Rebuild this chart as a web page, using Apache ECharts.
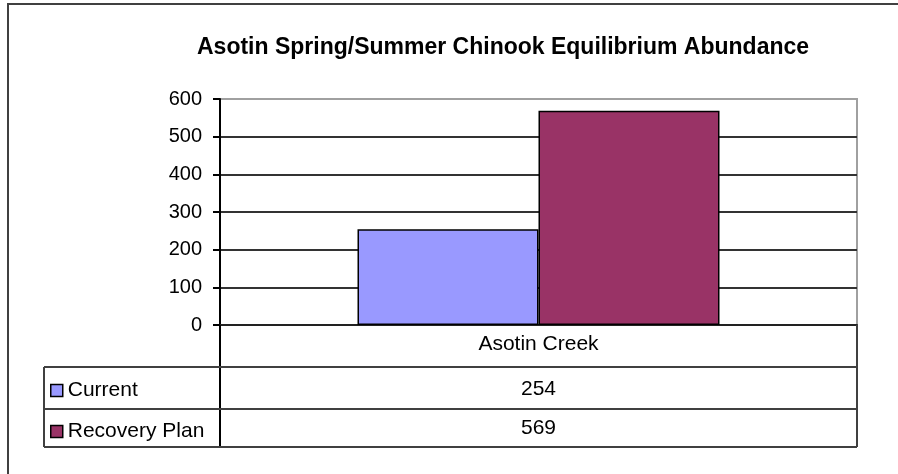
<!DOCTYPE html>
<html>
<head>
<meta charset="utf-8">
<script src="https://cdn.jsdelivr.net/npm/echarts@6/dist/echarts.min.js"></script>
<style>html,body{margin:0;padding:0;background:#fff}#c{width:898px;height:474px}</style>
</head>
<body>
<div id="c"></div>
<script>
const categories = ['Asotin Creek'];
const seriesNames = ['Current', 'Recovery Plan'];
const currentValues = [254];
const recoveryValues = [569];
const yTicks = [0, 100, 200, 300, 400, 500, 600];
const titleText = 'Asotin Spring/Summer Chinook Equilibrium Abundance';

const FONT = "'Liberation Sans', Arial, sans-serif";
const G = {left: 220, right: 41, top: 99, bottom: 149};
const W = 898, H = 474;
const plotRight = W - G.right, plotBottom = H - G.bottom;
const rowH = 42, tableBottom = 447, tableLeft = 44;

const chart = echarts.init(document.getElementById('c'), null, {renderer: 'canvas'});
const option = {
  backgroundColor: '#fff',
  animation: false,
  title: {
    text: titleText, left: 197, top: 36, padding: 0,
    textStyle: {fontFamily: FONT, fontSize: 23, fontWeight: 'bold', color: '#000'}
  },
  legend: {
    orient: 'vertical', left: 50, top: 380, itemGap: 20, padding: 0,
    itemWidth: 12, itemHeight: 12, icon: 'rect',
    itemStyle: {borderColor: '#000', borderWidth: 1.5},
    textStyle: {fontFamily: FONT, fontSize: 21, color: '#000', lineHeight: 20},
    data: seriesNames
  },
  grid: {left: G.left, right: G.right, top: G.top, bottom: G.bottom, show: true,
    borderColor: '#a0a0a0', borderWidth: 2, backgroundColor: '#fff'},
  xAxis: [
    {type: 'category', data: categories, position: 'bottom',
     axisLine: {lineStyle: {color: '#222', width: 2}}, axisTick: {show: false},
     axisLabel: {margin: 9, fontFamily: FONT, fontSize: 21, color: '#000'}},
    {type: 'category', data: categories, position: 'bottom', offset: rowH,
     axisLine: {show: false}, axisTick: {show: false},
     axisLabel: {margin: 12, fontFamily: FONT, fontSize: 21, color: '#000',
       formatter: (v, i) => String(currentValues[i])}},
    {type: 'category', data: categories, position: 'bottom', offset: rowH * 2,
     axisLine: {show: false}, axisTick: {show: false},
     axisLabel: {margin: 9, fontFamily: FONT, fontSize: 21, color: '#000',
       formatter: (v, i) => String(recoveryValues[i])}}
  ],
  yAxis: {
    type: 'value', min: yTicks[0], max: yTicks[yTicks.length - 1], interval: yTicks[1] - yTicks[0],
    axisLine: {show: true, lineStyle: {color: '#000', width: 2}},
    axisTick: {show: true, length: 7, lineStyle: {color: '#000', width: 2}},
    axisLabel: {margin: 18, fontFamily: FONT, fontSize: 20, color: '#000'},
    splitLine: {show: true, lineStyle: {color: ['#222', '#333', '#333', '#333', '#333', '#333', '#a0a0a0'], width: 2}}
  },
  series: [
    {name: seriesNames[0], type: 'bar', data: currentValues, barWidth: 181, barGap: '0%',
     itemStyle: {color: '#9999FF', borderColor: '#000', borderWidth: 1.5}},
    {name: seriesNames[1], type: 'bar', data: recoveryValues, barWidth: 181, barGap: '0%',
     itemStyle: {color: '#993366', borderColor: '#000', borderWidth: 1.5}}
  ],
  graphic: [
    {type: 'rect', shape: {x: 8, y: 4, width: 1000, height: 1000}, silent: true, z: 100,
     style: {fill: 'none', stroke: '#404040', lineWidth: 2}},
    {type: 'line', shape: {x1: G.left, y1: plotBottom, x2: G.left, y2: tableBottom}, z: 100,
     style: {stroke: '#000', lineWidth: 2}},
    {type: 'line', shape: {x1: plotRight, y1: plotBottom, x2: plotRight, y2: tableBottom}, z: 100,
     style: {stroke: '#404040', lineWidth: 2}},
    {type: 'line', shape: {x1: tableLeft, y1: plotBottom + rowH, x2: tableLeft, y2: tableBottom}, z: 100,
     style: {stroke: '#404040', lineWidth: 2}},
    {type: 'line', shape: {x1: tableLeft, y1: plotBottom + rowH, x2: plotRight, y2: plotBottom + rowH}, z: 100,
     style: {stroke: '#404040', lineWidth: 2}},
    {type: 'line', shape: {x1: tableLeft, y1: plotBottom + rowH * 2, x2: plotRight, y2: plotBottom + rowH * 2}, z: 100,
     style: {stroke: '#404040', lineWidth: 2}},
    {type: 'line', shape: {x1: tableLeft, y1: tableBottom, x2: plotRight, y2: tableBottom}, z: 100,
     style: {stroke: '#404040', lineWidth: 2}}
  ]
};
chart.setOption(option);
</script>
</body>
</html>
